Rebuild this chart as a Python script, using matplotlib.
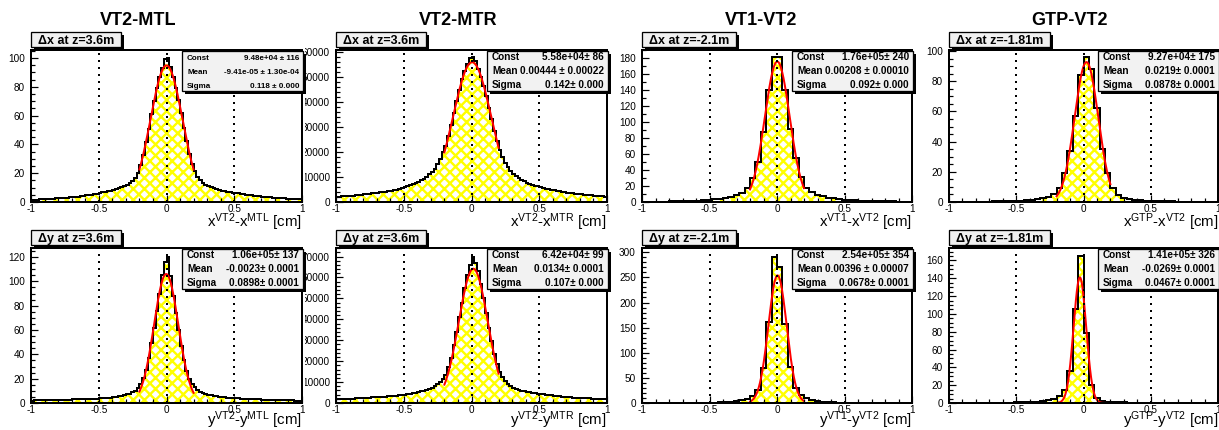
import numpy as np
import matplotlib
matplotlib.use("Agg")
import matplotlib.pyplot as plt
from matplotlib.patches import Rectangle
from matplotlib.transforms import Bbox, TransformedBbox
from matplotlib.ticker import MultipleLocator, FormatStrFormatter

# ---------------- data ----------------
titles = ["VT2-MTL", "VT2-MTR", "VT1-VT2", "GTP-VT2"]
box_labels = ["Δx at z=3.6m", "Δx at z=3.6m", "Δx at z=-2.1m", "Δx at z=-1.81m",
              "Δy at z=3.6m", "Δy at z=3.6m", "Δy at z=-2.1m", "Δy at z=-1.81m"]
x_labels = [r"x$^{VT2}$-x$^{MTL}$ [cm]", r"x$^{VT2}$-x$^{MTR}$ [cm]",
            r"x$^{VT1}$-x$^{VT2}$ [cm]", r"x$^{GTP}$-x$^{VT2}$ [cm]",
            r"y$^{VT2}$-y$^{MTL}$ [cm]", r"y$^{VT2}$-y$^{MTR}$ [cm]",
            r"y$^{VT1}$-y$^{VT2}$ [cm]", r"y$^{GTP}$-y$^{VT2}$ [cm]"]

fit_const = [9.48e4, 5.58e4, 1.76e5, 9.27e4, 1.06e5, 6.42e4, 2.54e5, 1.41e5]
fit_mean = [-9.41e-5, 0.00444, 0.00208, 0.0219, -0.0023, 0.0134, 0.00396, -0.0269]
fit_sigma = [0.118, 0.142, 0.092, 0.0878, 0.0898, 0.107, 0.0678, 0.0467]
fit_range = (-0.2, 0.2)

stat_const = ["9.48e+04 ± 116", "5.58e+04± 86", "1.76e+05± 240", "9.27e+04± 175",
              "1.06e+05± 137", "6.42e+04± 99", "2.54e+05± 354", "1.41e+05± 326"]
stat_mean = ["-9.41e-05 ± 1.30e-04", "0.00444 ± 0.00022", "0.00208 ± 0.00010", "0.0219± 0.0001",
             "-0.0023± 0.0001", "0.0134± 0.0001", "0.00396 ± 0.00007", "-0.0269± 0.0001"]
stat_sigma = ["0.118 ± 0.000", "0.142± 0.000", "0.092± 0.000", "0.0878± 0.0001",
              "0.0898± 0.0001", "0.107± 0.000", "0.0678± 0.0001", "0.0467± 0.0001"]

y_max = [105.5, 60670, 190.5, 100.7, 127.4, 74100, 308.5, 174]
y_major = [20, 10000, 20, 20, 20, 10000, 50, 20]
y_minor = [5, 2000, 10, 5, 5, 2000, 10, 5]
y_unit = [1000, 1, 1000, 1000, 1000, 1, 1000, 1000]   # counts per axis unit

# histogram contents in thousands of entries
hist_dx_mtl = [1.5, 1.6, 1.7, 1.8, 1.9, 2.0, 2.1, 2.2, 2.3, 2.5,
               2.6, 2.7, 2.9, 3.0, 3.2, 3.4, 3.6, 3.8, 4.0, 4.3,
               4.6, 4.9, 5.2, 5.5, 5.8, 6.2, 6.6, 7.0, 7.4, 7.9,
               8.4, 9.0, 9.6, 10.3, 11.1, 12.0, 13.1, 14.5, 16.5, 20.0,
               25.5, 32.5, 41.5, 51.0, 61.0, 70.0, 79.0, 86.5, 93.0, 99.5,
               100.0, 94.0, 87.0, 79.0, 70.5, 61.5, 51.5, 42.0, 33.5, 26.5,
               21.5, 17.5, 15.0, 13.3, 12.0, 11.0, 10.2, 9.5, 8.9, 8.4,
               7.9, 7.5, 7.1, 6.8, 6.5, 6.2, 5.9, 5.6, 5.3, 5.0,
               4.8, 4.6, 4.4, 4.2, 4.0, 3.8, 3.6, 3.4, 3.3, 3.1,
               3.0, 2.8, 2.7, 2.6, 2.4, 2.3, 2.2, 2.1, 2.0, 1.9]
hist_dx_mtr = [2.0, 2.1, 2.2, 2.2, 2.3, 2.4, 2.5, 2.6, 2.7, 2.8,
               3.0, 3.1, 3.2, 3.4, 3.5, 3.6, 3.8, 3.9, 4.1, 4.2,
               4.4, 4.6, 4.9, 5.2, 5.5, 5.8, 6.2, 6.6, 7.0, 7.5,
               8.0, 8.6, 9.3, 10.1, 11.0, 12.0, 13.3, 15.0, 17.3, 20.0,
               22.5, 26.5, 30.8, 35.4, 40.2, 44.8, 48.9, 52.3, 55.2, 57.3,
               57.8, 56.2, 53.2, 50.0, 46.3, 42.2, 37.7, 33.1, 28.5, 24.3,
               20.6, 17.9, 15.7, 13.9, 12.5, 11.3, 10.3, 9.5, 8.8, 8.2,
               7.7, 7.2, 6.8, 6.5, 6.2, 5.9, 5.6, 5.3, 5.1, 4.9,
               4.7, 4.5, 4.3, 4.1, 3.9, 3.7, 3.6, 3.4, 3.3, 3.1,
               3.0, 2.9, 2.8, 2.7, 2.6, 2.5, 2.4, 2.3, 2.2, 2.1]
hist_dx_vt1 = [0.4, 0.4, 0.5, 0.5, 0.6, 0.7, 0.8, 0.9, 1.1, 1.3,
               1.6, 2.0, 2.6, 3.2, 4.0, 5.0, 6.5, 8.5, 11.5, 17.0,
               30.0, 50.0, 88.0, 140.0, 182.0, 182.0, 140.0, 92.0, 55.0, 31.0,
               17.5, 12.0, 9.0, 7.0, 5.5, 4.4, 3.6, 3.0, 2.5, 2.1,
               1.8, 1.5, 1.3, 1.1, 0.9, 0.8, 0.7, 0.6, 0.5, 0.4]
hist_dx_gtp = [0.2, 0.2, 0.2, 0.2, 0.3, 0.3, 0.3, 0.3, 0.4, 0.4,
               0.5, 0.6, 0.7, 0.9, 1.1, 1.4, 1.9, 2.6, 3.6, 5.5,
               9.5, 19.0, 34.0, 57.0, 84.0, 96.0, 88.0, 62.0, 35.0, 19.5,
               9.5, 4.8, 2.8, 1.9, 1.4, 1.1, 0.9, 0.7, 0.6, 0.5,
               0.4, 0.4, 0.3, 0.3, 0.3, 0.2, 0.2, 0.2, 0.2, 0.2]
hist_dy_mtl = [2.0, 2.1, 2.1, 2.2, 2.2, 2.3, 2.3, 2.4, 2.4, 2.5,
               2.6, 2.6, 2.7, 2.8, 2.8, 2.9, 3.0, 3.0, 3.1, 3.2,
               3.2, 3.3, 3.4, 3.5, 3.6, 3.8, 3.9, 4.1, 4.3, 4.5,
               4.8, 5.1, 5.5, 5.9, 6.4, 7.0, 7.8, 8.8, 10.2, 12.3,
               15.5, 20.5, 27.5, 37.0, 49.0, 62.0, 76.0, 90.0, 105.0, 116.0,
               120.0, 104.0, 88.0, 74.0, 60.0, 47.0, 35.0, 26.0, 19.5, 15.5,
               12.8, 10.8, 9.4, 8.3, 7.5, 6.8, 6.3, 5.9, 5.5, 5.2,
               4.9, 4.7, 4.5, 4.3, 4.1, 3.9, 3.8, 3.6, 3.5, 3.4,
               3.3, 3.2, 3.1, 3.0, 2.9, 2.8, 2.7, 2.6, 2.5, 2.5,
               2.4, 2.3, 2.3, 2.2, 2.2, 2.1, 2.1, 2.0, 2.0, 1.9]
hist_dy_mtr = [1.8, 1.9, 1.9, 2.0, 2.0, 2.1, 2.1, 2.2, 2.3, 2.4,
               2.5, 2.6, 2.6, 2.7, 2.8, 2.8, 2.9, 3.0, 3.1, 3.2,
               3.3, 3.4, 3.5, 3.6, 3.8, 3.9, 4.1, 4.3, 4.6, 4.9,
               5.2, 5.5, 5.9, 6.3, 6.8, 7.4, 8.1, 9.0, 10.0, 11.4,
               13.5, 17.0, 21.5, 27.5, 34.0, 41.0, 48.0, 55.0, 61.0, 66.0,
               70.0, 67.0, 63.0, 57.0, 50.0, 43.0, 36.0, 29.5, 23.5, 18.5,
               14.8, 12.2, 10.4, 9.1, 8.1, 7.4, 6.8, 6.3, 5.9, 5.6,
               5.3, 5.1, 4.9, 4.7, 4.5, 4.3, 4.1, 3.9, 3.7, 3.6,
               3.4, 3.3, 3.2, 3.0, 2.9, 2.8, 2.7, 2.6, 2.5, 2.4,
               2.4, 2.3, 2.2, 2.2, 2.1, 2.1, 2.0, 2.0, 1.9, 1.9]
hist_dy_vt1 = [0.2, 0.2, 0.2, 0.2, 0.2, 0.3, 0.3, 0.3, 0.3, 0.4,
               0.4, 0.5, 0.6, 0.8, 1.0, 1.4, 2.2, 3.5, 5.5, 8.0,
               13.0, 26.5, 70.0, 162.0, 291.0, 271.0, 158.0, 72.0, 30.0, 16.5,
               10.0, 5.5, 3.5, 2.3, 1.6, 1.2, 0.9, 0.7, 0.6, 0.5,
               0.4, 0.4, 0.3, 0.3, 0.3, 0.2, 0.2, 0.2, 0.2, 0.2]
hist_dy_gtp = [0.2, 0.2, 0.2, 0.2, 0.3, 0.3, 0.3, 0.3, 0.4, 0.4,
               0.5, 0.5, 0.6, 0.7, 0.8, 1.0, 1.4, 2.0, 3.0, 4.5,
               7.5, 15.0, 35.5, 105.0, 165.0, 78.5, 20.5, 5.6, 2.5, 1.5,
               1.0, 0.8, 0.6, 0.5, 0.4, 0.4, 0.3, 0.3, 0.3, 0.2,
               0.2, 0.2, 0.2, 0.2, 0.2, 0.2, 0.2, 0.2, 0.2, 0.2]
hists = [hist_dx_mtl, hist_dx_mtr, hist_dx_vt1, hist_dx_gtp,
         hist_dy_mtl, hist_dy_mtr, hist_dy_vt1, hist_dy_gtp]

# ---------------- layout (pixels) ----------------
W, H, DPI = 1219, 430, 100
def pt(px):
    return px * 72.0 / DPI
def fx(x):
    return x / W
def fy(y):
    return 1 - y / H

plt.rcParams['font.family'] = ['Liberation Sans', 'DejaVu Sans']
plt.rcParams['mathtext.fontset'] = 'custom'
plt.rcParams['mathtext.rm'] = 'Liberation Sans'
plt.rcParams['mathtext.it'] = 'Liberation Sans:italic'
plt.rcParams['mathtext.bf'] = 'Liberation Sans:bold'
plt.rcParams['mathtext.default'] = 'regular'
plt.rcParams['hatch.linewidth'] = pt(2.4)

col_x = [(31, 302), (336, 607), (642, 912), (949, 1218)]
row_y = [(50, 202), (248, 403)]
pad_x = [(0, 305), (305, 610), (610, 915), (915, 1219)]
title_x = [138, 458, 761, 1069]
xlabel_base = [227, 425]

fig = plt.figure(figsize=(W / DPI, H / DPI), dpi=DPI)
fig.patch.set_facecolor('white')

def add_box(x0, y0, x1, y1, face, shadow=3, z=5):
    fig.add_artist(Rectangle((fx(x0 + shadow), fy(y1 + shadow)), (x1 - x0) / W, (y1 - y0) / H,
                             transform=fig.transFigure, facecolor='black', edgecolor='none', zorder=z))
    fig.add_artist(Rectangle((fx(x0), fy(y1)), (x1 - x0) / W, (y1 - y0) / H,
                             transform=fig.transFigure, facecolor=face, edgecolor='black',
                             linewidth=pt(1.3), zorder=z + 0.1))

axes = []
label_texts = []
for k in range(8):
    r, c = divmod(k, 4)
    x0, x1 = col_x[c]
    y0, y1 = row_y[r]
    ax = fig.add_axes([fx(x0), fy(y1), (x1 - x0) / W, (y1 - y0) / H])
    axes.append(ax)
    vals = np.array(hists[k]) * 1000.0 / y_unit[k]
    edges = np.linspace(-1, 1, len(vals) + 1)
    ax.stairs(vals, edges, fill=True, facecolor='none', edgecolor='#ffff00',
              linewidth=0, hatch='xxx', zorder=1)
    ax.stairs(vals, edges, color='black', linewidth=pt(2), zorder=1.5)
    xf = np.linspace(fit_range[0], fit_range[1], 300)
    yf = fit_const[k] * np.exp(-0.5 * ((xf - fit_mean[k]) / fit_sigma[k]) ** 2) / y_unit[k]
    ax.plot(xf, yf, color='#ff0000', linewidth=pt(2), zorder=2)

    ax.set_xlim(-1, 1)
    ax.set_ylim(0, y_max[k])
    ax.xaxis.set_major_locator(MultipleLocator(0.5))
    ax.xaxis.set_minor_locator(MultipleLocator(0.1))
    ax.yaxis.set_major_locator(MultipleLocator(y_major[k]))
    ax.yaxis.set_minor_locator(MultipleLocator(y_minor[k]))
    ax.xaxis.set_major_formatter(FormatStrFormatter('%g'))
    ax.yaxis.set_major_formatter(FormatStrFormatter('%g'))
    ax.tick_params(which='both', direction='in', top=False, right=False, width=pt(1.2), colors='black')
    ax.tick_params(which='major', length=pt(7))
    ax.tick_params(which='minor', length=pt(4))
    ax.tick_params(axis='x', which='major', labelsize=pt(10), pad=pt(2))
    ax.tick_params(axis='y', which='major', labelsize=pt(10), pad=pt(6))
    for sp in ax.spines.values():
        sp.set_linewidth(pt(2))
        sp.set_zorder(3)
    ax.set_axisbelow(False)
    ax.xaxis.grid(True, which='major', color='black', linestyle=(0, (1, 2.5)), linewidth=pt(2))

    # axis title
    fig.text(fx(x1), fy(xlabel_base[r]), x_labels[k], ha='right', va='baseline',
             fontsize=pt(15), zorder=4)

    # label box text (box added after measuring)
    t = fig.text(fx(x0 + 7), fy(y0 - 6), box_labels[k], ha='left', va='baseline',
                 fontsize=pt(12.5), fontweight='bold', zorder=7)
    label_texts.append((t, x0, y0))

    # stats box
    bx0, bx1 = x1 - 120, x1 + 1
    by0 = y0 + 1
    add_box(bx0, by0, bx1, by0 + 40, '#f2f2f2')
    fs = pt(8) if k == 0 else pt(10)
    for name, val, dy in (("Const", stat_const[k], 9.5), ("Mean", stat_mean[k], 23.5),
                          ("Sigma", stat_sigma[k], 37)):
        fig.text(fx(bx0 + 5), fy(by0 + dy), name, ha='left', va='baseline',
                 fontsize=fs, fontweight='bold', zorder=7)
        fig.text(fx(bx1 - 4), fy(by0 + dy), val, ha='right', va='baseline',
                 fontsize=fs, fontweight='bold', zorder=7)

for c in range(4):
    fig.text(fx(title_x[c]), fy(25), titles[c], ha='center', va='baseline',
             fontsize=pt(18), fontweight='bold')

fig.canvas.draw()
renderer = fig.canvas.get_renderer()
for t, x0, y0 in label_texts:
    ext = t.get_window_extent(renderer)
    add_box(x0, y0 - 18, ext.x1 + 7, y0 - 3, '#f0f0f0', z=5.5)

# clip tick labels to their own pad
for k, ax in enumerate(axes):
    c = k % 4
    clip = TransformedBbox(Bbox.from_extents(fx(pad_x[c][0]), 0, fx(pad_x[c][1]), 1), fig.transFigure)
    for lab in ax.get_yticklabels() + ax.get_xticklabels():
        lab.set_clip_box(clip)
        lab.set_clip_on(True)

fig.savefig("out.png", dpi=DPI)
